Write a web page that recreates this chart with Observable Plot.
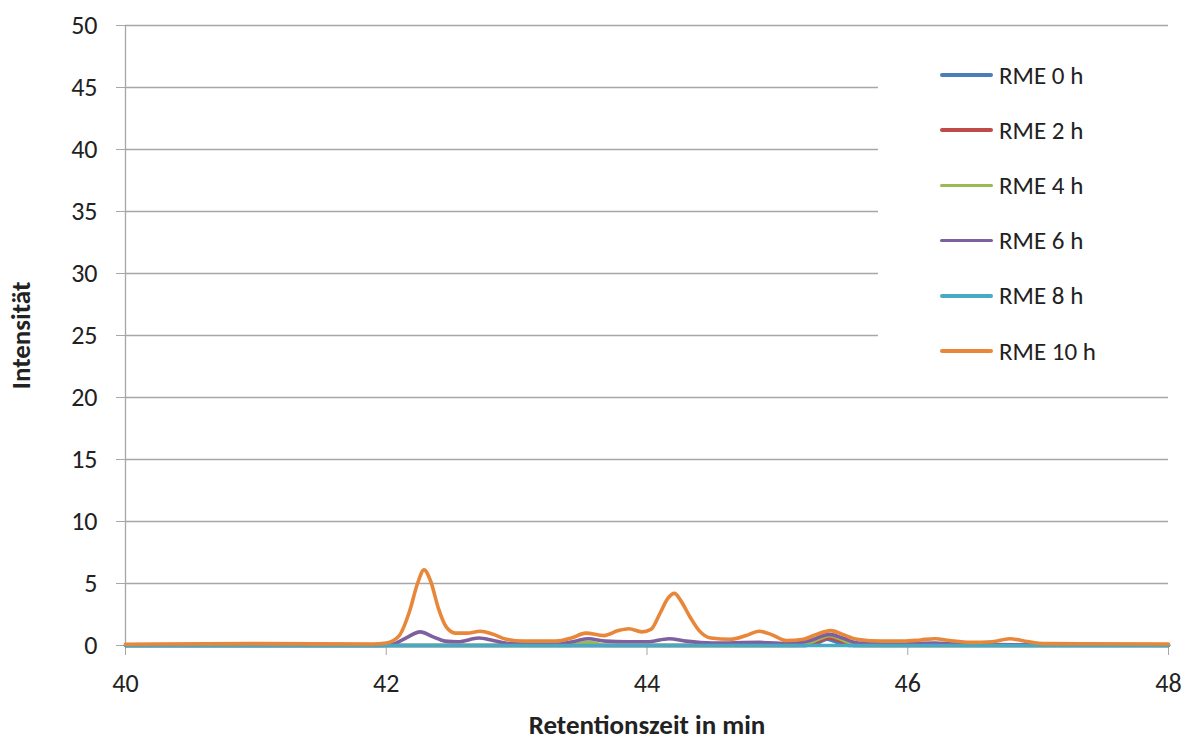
<!DOCTYPE html>
<html><head><meta charset="utf-8">
<script src="https://cdn.jsdelivr.net/npm/d3@7"></script>
<script src="https://cdn.jsdelivr.net/npm/@observablehq/plot@0.6"></script>
<style>
html,body{margin:0;padding:0;background:#fff;}
#wrap{position:relative;width:1190px;height:742px;font-family:Carlito,Lato,"Open Sans",sans-serif;}
#legend{position:absolute;left:878px;top:46px;width:290px;height:322px;background:#fff;}
.item{position:absolute;left:62px;height:26px;display:flex;align-items:center;font-size:25px;color:#222;}
.item span.sw{display:inline-block;width:53px;height:3.5px;border-radius:2px;margin-right:6px;}
</style></head>
<body><div id="wrap"></div>
<script>
const seriesNames = ["RME 0 h","RME 2 h","RME 4 h","RME 6 h","RME 8 h","RME 10 h"];
const seriesColors = ["#4A7EBB","#BE4B48","#98B954","#7D60A0","#46AAC5","#E8873A"];

const t0h = [40, 45.22, 45.32, 45.38, 45.46, 45.55, 48];
const y0h = [0, 0, 0.25, 0.5, 0.25, 0, 0];

const t2h = [40, 45.2, 45.3, 45.4, 45.5, 45.6, 48];
const y2h = [0, 0, 0.3, 0.6, 0.3, 0, 0];

const t4h = [40, 43.4, 43.55, 43.7, 45.15, 45.28, 45.4, 45.52, 45.65, 48];
const y4h = [0, 0, 0.25, 0, 0, 0.35, 0.8, 0.35, 0, 0];

const t6h = [40, 41.95, 42.05, 42.15, 42.26, 42.36, 42.45, 42.55, 42.71, 42.82, 42.95, 43.3, 43.45, 43.55, 43.68, 43.85, 44.0, 44.17, 44.3, 44.5, 44.86, 45.1, 45.25, 45.4, 45.5, 45.62, 46.0, 46.2, 46.4, 47, 48];
const y6h = [0, 0, 0.1, 0.6, 1.1, 0.7, 0.35, 0.3, 0.6, 0.4, 0.15, 0.1, 0.35, 0.55, 0.35, 0.3, 0.3, 0.55, 0.35, 0.2, 0.25, 0.15, 0.4, 0.9, 0.6, 0.2, 0.15, 0.2, 0.1, 0.05, 0.05];

const t8h = [40, 48];
const y8h = [0, 0];

const t10h = [40, 41.0, 41.9, 42.0, 42.1, 42.18, 42.24, 42.29, 42.34, 42.4, 42.46, 42.53, 42.62, 42.72, 42.82, 42.92, 43.05, 43.3, 43.42, 43.53, 43.67, 43.78, 43.86, 43.96, 44.03, 44.1, 44.16, 44.21, 44.26, 44.33, 44.4, 44.49, 44.64, 44.76, 44.86, 44.95, 45.07, 45.2, 45.3, 45.41, 45.5, 45.61, 45.8, 45.97, 46.1, 46.21, 46.32, 46.48, 46.65, 46.78, 46.9, 47.05, 48];
const y10h = [0.1, 0.15, 0.12, 0.2, 0.8, 2.8, 5.0, 6.1, 5.2, 3.0, 1.5, 1.0, 1.0, 1.15, 0.9, 0.5, 0.35, 0.35, 0.6, 1.0, 0.8, 1.2, 1.35, 1.1, 1.3, 2.6, 3.8, 4.2, 3.6, 2.3, 1.2, 0.6, 0.5, 0.8, 1.15, 0.9, 0.4, 0.5, 0.9, 1.2, 0.9, 0.5, 0.35, 0.35, 0.45, 0.55, 0.4, 0.25, 0.3, 0.55, 0.35, 0.15, 0.12];

const xTicks = [40, 42, 44, 46, 48];
const yTicks = [0, 5, 10, 15, 20, 25, 30, 35, 40, 45, 50];

const allT = [t0h, t2h, t4h, t6h, t8h, t10h];
const allY = [y0h, y2h, y4h, y6h, y8h, y10h];
const rows = [];
seriesNames.forEach((s, i) => allT[i].forEach((t, j) => rows.push({series: s, t, v: allY[i][j]})));

const grid = "#a6a6a6";
const chart = Plot.plot({
  width: 1190, height: 742,
  marginLeft: 125, marginRight: 22, marginTop: 25, marginBottom: 97,
  style: {fontFamily: "Carlito, Lato, 'Open Sans', sans-serif", fontSize: "26px", color: "#222", background: "#fff"},
  x: {domain: [40, 48]},
  y: {domain: [0, 50]},
  color: {domain: seriesNames, range: seriesColors},
  marks: [
    Plot.gridY(yTicks, {stroke: grid, strokeOpacity: 1, strokeWidth: 1.3}),
    Plot.ruleX([40], {stroke: grid, strokeWidth: 1.3}),
    Plot.ruleY([0], {stroke: grid, strokeWidth: 1.3}),
    Plot.axisY(yTicks, {tickSize: 9, stroke: grid, strokeOpacity: 1, tickPadding: 19, fontSize: 26,
      label: "Intensität", labelAnchor: "center", labelOffset: 115, labelArrow: "none"}),
    Plot.axisX(xTicks, {tickSize: 10, stroke: grid, strokeOpacity: 1, tickPadding: 18, fontSize: 26,
      tickFormat: d => String(d),
      label: "Retentionszeit in min", labelAnchor: "center", labelOffset: 88, labelArrow: "none"}),
    Plot.line(rows, {x: "t", y: "v", z: "series", stroke: "series", strokeWidth: 3.6, curve: "monotone-x"})
  ]
});
chart.querySelectorAll("[aria-label='y-axis label'] text, [aria-label='x-axis label'] text, [aria-label='y-axis label'], [aria-label='x-axis label']").forEach(t => {
  t.setAttribute("font-weight", "bold");
  t.setAttribute("font-size", "27");
});
const wrap = document.getElementById("wrap");
wrap.appendChild(chart);
const legend = document.createElement("div");
legend.id = "legend";
seriesNames.forEach((s, i) => {
  const it = document.createElement("div");
  it.className = "item";
  it.style.top = (16 + i * 55.2) + "px";
  it.innerHTML = `<span class="sw" style="background:${seriesColors[i]}"></span>${s}`;
  legend.appendChild(it);
});
wrap.appendChild(legend);
</script></body></html>
